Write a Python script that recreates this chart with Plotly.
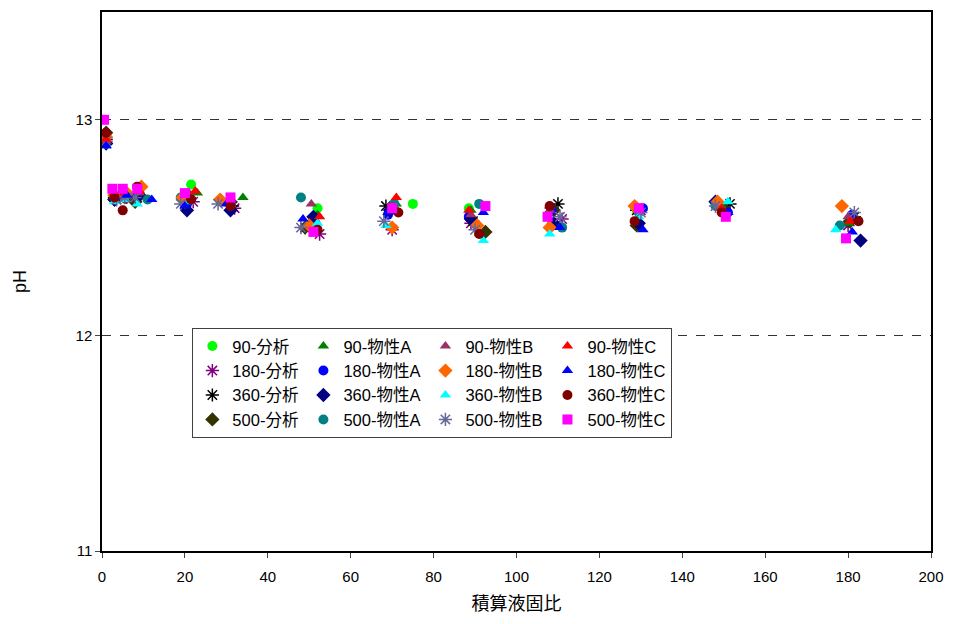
import plotly.graph_objects as go

names = ["90-分析", "90-物性A", "90-物性B", "90-物性C",
         "180-分析", "180-物性A", "180-物性B", "180-物性C",
         "360-分析", "360-物性A", "360-物性B", "360-物性C",
         "500-分析", "500-物性A", "500-物性B", "500-物性C"]

x_90_bunseki = [1, 3, 5.5, 9, 21.5, 31, 52, 75, 88.5, 108.5, 129, 149, 180]
y_90_bunseki = [12.9, 12.65, 12.64, 12.66, 12.70, 12.62, 12.59, 12.61, 12.59, 12.58, 12.58, 12.60, 12.52]
x_90_A = [1, 3, 6, 9.5, 23, 34, 52, 71, 89, 108.5, 129, 149.5, 180]
y_90_A = [12.91, 12.65, 12.66, 12.65, 12.66, 12.64, 12.56, 12.61, 12.58, 12.59, 12.59, 12.6, 12.52]
x_90_B = [1, 3, 5.5, 9, 21, 31, 50.5, 70, 89, 108, 129, 149, 180]
y_90_B = [12.9, 12.64, 12.65, 12.66, 12.66, 12.62, 12.61, 12.6, 12.56, 12.58, 12.6, 12.6, 12.55]
x_90_C = [1, 3, 5.5, 9, 22.5, 31, 52.5, 71, 88.5, 108, 129.5, 149.5, 180.5]
y_90_C = [12.91, 12.66, 12.66, 12.67, 12.67, 12.61, 12.55, 12.64, 12.58, 12.6, 12.59, 12.59, 12.53]

x_180_bunseki = [1, 3.5, 6, 9, 22, 32, 52.5, 70, 89, 111, 130, 150, 180]
y_180_bunseki = [12.89, 12.63, 12.64, 12.65, 12.62, 12.59, 12.47, 12.49, 12.52, 12.54, 12.58, 12.58, 12.51]
x_180_A = [1, 3, 6, 9, 20.5, 31, 51.5, 69, 88.5, 108.5, 130.5, 151, 181]
y_180_A = [12.89, 12.64, 12.65, 12.66, 12.61, 12.61, 12.52, 12.56, 12.55, 12.58, 12.59, 12.57, 12.56]
x_180_B = [1, 3, 6, 9.5, 19.5, 28.5, 50, 70, 90.5, 108, 128.5, 148.5, 178.5]
y_180_B = [12.92, 12.65, 12.66, 12.69, 12.64, 12.63, 12.51, 12.5, 12.51, 12.5, 12.6, 12.62, 12.6]
x_180_C = [1, 3, 6, 12, 20, 30, 48.5, 69, 92, 110.5, 130.5, 151, 181]
y_180_C = [12.88, 12.64, 12.65, 12.63, 12.6, 12.61, 12.54, 12.57, 12.57, 12.5, 12.49, 12.57, 12.48]

x_360_bunseki = [1, 3, 5.5, 8.5, 21, 31.5, 49, 68.5, 89.5, 110, 129, 151.5, 181.5]
y_360_bunseki = [12.91, 12.64, 12.65, 12.64, 12.64, 12.6, 12.5, 12.6, 12.53, 12.61, 12.58, 12.61, 12.55]
x_360_A = [1, 3, 6, 9, 20.5, 31, 51, 69.5, 89, 109, 129.5, 148, 183]
y_360_A = [12.89, 12.63, 12.65, 12.65, 12.58, 12.58, 12.55, 12.58, 12.54, 12.52, 12.52, 12.62, 12.44]
x_360_B = [1, 3, 5.5, 8.5, 21, 31, 52, 68.5, 92, 108, 129.5, 151, 177]
y_360_B = [12.88, 12.62, 12.63, 12.61, 12.62, 12.61, 12.52, 12.51, 12.44, 12.47, 12.55, 12.62, 12.49]
x_360_C = [1, 3, 5, 8.5, 21.5, 31, 52, 71.5, 91, 108, 128.5, 149.5, 182.5]
y_360_C = [12.94, 12.64, 12.58, 12.69, 12.63, 12.6, 12.49, 12.57, 12.47, 12.6, 12.53, 12.57, 12.53]

x_500_bunseki = [1, 3, 5.5, 8, 21, 31, 49, 70, 92.5, 109, 129, 150, 180.5]
y_500_bunseki = [12.94, 12.63, 12.64, 12.62, 12.63, 12.62, 12.5, 12.59, 12.48, 12.58, 12.51, 12.59, 12.53]
x_500_A = [1, 3, 6, 11, 19, 31, 48, 70.5, 91, 111, 129.5, 148, 178]
y_500_A = [12.91, 12.64, 12.65, 12.63, 12.64, 12.61, 12.64, 12.61, 12.61, 12.5, 12.57, 12.6, 12.51]
x_500_B = [1, 3.5, 5.5, 8, 19, 28, 48, 68, 90, 110.5, 130, 148, 181.5]
y_500_B = [12.9, 12.63, 12.64, 12.64, 12.61, 12.61, 12.5, 12.53, 12.49, 12.55, 12.57, 12.6, 12.57]
x_500_C = [0.5, 2.5, 5, 8.5, 20, 31, 51, 70, 92.5, 107.5, 129.5, 150.5, 179.5]
y_500_C = [13.0, 12.68, 12.68, 12.68, 12.66, 12.64, 12.48, 12.59, 12.6, 12.55, 12.59, 12.55, 12.45]

xs = [x_90_bunseki, x_90_A, x_90_B, x_90_C,
      x_180_bunseki, x_180_A, x_180_B, x_180_C,
      x_360_bunseki, x_360_A, x_360_B, x_360_C,
      x_500_bunseki, x_500_A, x_500_B, x_500_C]
ys = [y_90_bunseki, y_90_A, y_90_B, y_90_C,
      y_180_bunseki, y_180_A, y_180_B, y_180_C,
      y_360_bunseki, y_360_A, y_360_B, y_360_C,
      y_500_bunseki, y_500_A, y_500_B, y_500_C]

colors = ["#00FF00", "#008000", "#993366", "#FF0000",
          "#800080", "#0000FF", "#FF6600", "#0000FF",
          "#000000", "#000080", "#00FFFF", "#800000",
          "#333300", "#008080", "#666699", "#FF00FF"]
symbols = ["circle", "triangle-up", "triangle-up", "triangle-up",
           "asterisk-open", "circle", "diamond", "triangle-up",
           "asterisk-open", "diamond", "triangle-up", "circle",
           "diamond", "circle", "asterisk-open", "square"]
groups = ["分析", "物性A", "物性B", "物性C"] * 4

x_ticks = list(range(0, 201, 20))
y_ticks = [11, 12, 13]

font = "Arial, Liberation Sans, Noto Sans CJK JP, sans-serif"

fig = go.Figure()
# add in column order so grouped legend shows columns
for col in range(4):
    for row in range(4):
        i = row * 4 + col
        sym = symbols[i]
        mk = dict(symbol=sym, color=colors[i], size=10)
        if sym == "asterisk-open":
            mk["line"] = dict(color=colors[i], width=1.5)
            mk["size"] = 11
        elif sym == "diamond":
            mk["size"] = 11
        fig.add_trace(go.Scatter(x=xs[i], y=ys[i], mode="markers", name=names[i],
                                 legendgroup=groups[i], marker=mk))

fig.update_layout(
    width=954, height=624,
    margin=dict(l=102, r=19, t=10, b=73),
    plot_bgcolor="white", paper_bgcolor="white",
    font=dict(family=font, size=15, color="black"),
    showlegend=True,
    legend=dict(orientation="h", traceorder="grouped", tracegroupgap=2,
                x=0.109, y=0.414, xanchor="left", yanchor="top",
                bgcolor="white", bordercolor="#404040", borderwidth=1,
                font=dict(family=font, size=16.5, color="black"),
                itemwidth=30),
    xaxis=dict(range=[0, 200], tickvals=x_ticks, ticks="outside", ticklen=5,
               ticklabelstandoff=6,
               showline=True, linecolor="black", linewidth=1.5, mirror=True,
               showgrid=False, zeroline=False,
               title=dict(text="積算液固比", font=dict(size=18), standoff=14)),
    yaxis=dict(range=[11, 13.5], tickvals=y_ticks, ticks="outside", ticklen=5,
               showline=True, linecolor="black", linewidth=1.5, mirror=True,
               showgrid=True, gridcolor="#333333", griddash="dash", gridwidth=1,
               zeroline=False,
               title=dict(text="pH", font=dict(size=18), standoff=44)),
)

fig.write_html("out.html")
